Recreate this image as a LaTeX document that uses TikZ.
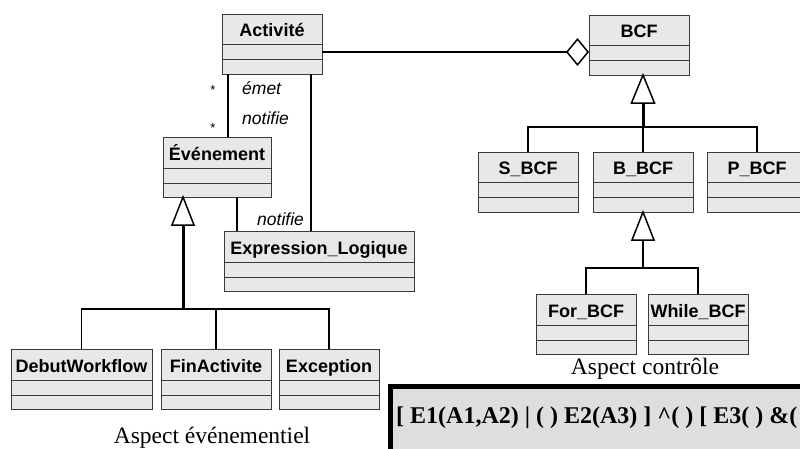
\documentclass[tikz,border=0pt]{standalone}
\usepackage{fontspec}
\setmainfont{Liberation Serif}
\newfontfamily\clsfont{Liberation Sans}
\usetikzlibrary{calc,arrows.meta}
\definecolor{clsfill}{HTML}{E8E8E8}
\definecolor{clsline}{HTML}{3A3A3A}
\definecolor{exprfill}{HTML}{DEDEDE}
\tikzset{
 classbox/.style={draw=clsline, fill=clsfill, line width=1pt, inner sep=0pt, outer sep=0pt, anchor=north west, minimum height=60pt},
 cmpline/.style={draw=clsline, line width=1pt},
 clsname/.style={font=\clsfont\bfseries\fontsize{18}{20}\selectfont, inner sep=0pt, anchor=base},
 assoc/.style={draw=black, line width=1.5pt},
 role/.style={font=\clsfont\itshape\fontsize{17.5}{19}\selectfont, inner sep=0pt, anchor=west},
 mult/.style={font=\clsfont\fontsize{13}{14}\selectfont, inner sep=0pt},
 gentri/.style={draw=black, line width=1.5pt, fill=white, line join=miter},
 trunk/.style={draw=black, line width=3pt},
 branch/.style={draw=black, line width=1.5pt},
 caption/.style={font=\fontsize{23.5}{26}\selectfont, inner sep=0pt, anchor=base},
 exprbox/.style={draw=black, fill=exprfill, line width=5pt, anchor=north west, inner sep=0pt, outer sep=0pt, minimum width=450pt, minimum height=90pt},
 exprtext/.style={font=\bfseries\fontsize{24}{26}\selectfont, inner sep=0pt, anchor=base west},
}
% name, x, y, width, header height, label
\newcommand\umlclass[6]{%
 \node[classbox, minimum width=#4pt] (#1) at (#2,#3) {};
 \draw[cmpline] (#1.north west) ++(0,#5) -- ++(#4,0);
 \draw[cmpline] (#1.north west) ++(0,#5+15) -- ++(#4,0);
 \path (#1.north west) ++(#4/2,#5-8) node[clsname] (#1-t) {#6};
}
\begin{document}
\begin{tikzpicture}[x=1pt,y=-1pt]
\useasboundingbox (0,0) rectangle (800,448);
\clip (0,0) rectangle (800,448);

% classes
\umlclass{act}{222}{14}{100}{30}{Activité}
\umlclass{bcf}{589}{15}{100}{30}{BCF}
\umlclass{sbcf}{478}{152}{100}{30}{S\_BCF}
\umlclass{bbcf}{593}{152}{100}{30}{B\_BCF}
\umlclass{pbcf}{707}{152}{100}{30}{P\_BCF}
\umlclass{forbcf}{536}{294}{100}{31}{For\_BCF}
\umlclass{whilebcf}{648}{294}{100}{31}{While\_BCF}
\umlclass{evt}{163}{137}{108}{31}{Événement}
\umlclass{expl}{224}{231}{190}{31}{Expression\_Logique}
\umlclass{debut}{11}{349}{141}{31}{DebutWorkflow}
\umlclass{fin}{161}{349}{110}{31}{FinActivite}
\umlclass{exc}{279}{349}{100}{31}{Exception}

% aggregation Activite -- BCF
\draw[assoc, -{Diamond[open, length=23pt, width=28pt]}] ($(act.north east)+(0,38)$) coordinate (ag1) -- (ag1 -| bcf.west);

% associations
\draw[assoc] ($(act.south west)+(6,0)$) coordinate (as1) -- (as1 |- evt.north);
\draw[assoc] ($(act.south east)+(-11,0)$) coordinate (as2) -- (as2 |- expl.north);
\draw[assoc] ($(evt.south west)+(74,0)$) coordinate (as3) -- (as3 |- expl.north);

\node[mult] (m1) at (213,90) {*};
\node[mult] (m2) at (213,128) {*};
\node[role] (r1) at (242,88) {émet};
\node[role] (r2) at (242,118) {notifie};
\node[role] (r3) at (257,219) {notifie};

% generalization: Evenement
\path ($(evt.south west)+(20,0)$) coordinate (g1tip);
\draw[trunk] ($(g1tip)+(0,27)$) -- ($(g1tip)+(0,112)$) coordinate (g1j);
\draw[gentri] (g1tip) -- ++(-11,28) -- ++(22,0) -- cycle;
\draw[branch] (debut.north) |- (g1j -| exc.north) -- (exc.north);
\draw[branch] (fin.north) -- (fin.north |- g1j);

% generalization: BCF
\path (bcf.south -| bbcf.north) coordinate (g2tip);
\draw[trunk] ($(g2tip)+(0,27)$) -- ($(g2tip)+(0,52)$) coordinate (g2j);
\draw[gentri] (g2tip) -- ++(-11.5,28) -- ++(23,0) -- cycle;
\draw[branch] (sbcf.north) |- (g2j -| pbcf.north) -- (pbcf.north);
\draw[branch] (bbcf.north) -- (g2j);

% generalization: B_BCF
\path (bbcf.south) coordinate (g3tip);
\draw[trunk, line width=2.2pt] ($(g3tip)+(0,27)$) -- ($(g3tip)+(0,56)$) coordinate (g3j);
\draw[gentri] (g3tip) -- ++(-11,28) -- ++(22,0) -- cycle;
\draw[branch] (forbcf.north) |- (g3j -| whilebcf.north) -- (whilebcf.north);

% captions
\node[caption] (cap1) at (212,443) {Aspect événementiel};
\node[caption] (cap2) at (645,374) {Aspect contrôle};

% expression box
\node[exprbox] (ebox) at (390.5,386.5) {};
\node[exprtext] (etext) at (396,423) {[ E1(A1,A2) | ( ) E2(A3) ] \textasciicircum( ) [ E3( ) \&( ) ]};
\end{tikzpicture}
\end{document}
